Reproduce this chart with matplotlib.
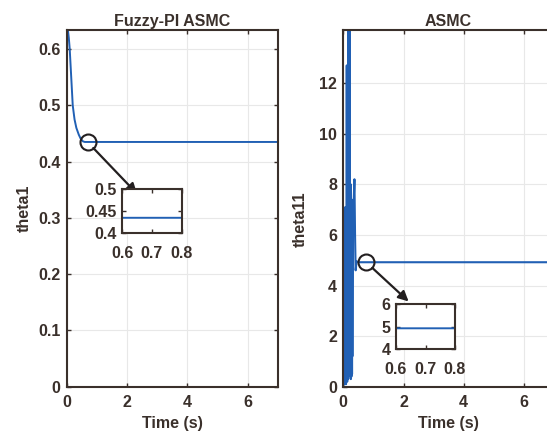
import matplotlib
matplotlib.use("Agg")
import matplotlib.pyplot as plt

# ---------------- data ----------------
fuzzy_t = [0.0, 0.001, 0.04, 0.07, 0.10, 0.15, 0.20, 0.26, 0.32, 0.40, 0.47, 0.54, 0.60, 1.0, 7.0]
fuzzy_theta = [0.0, 0.634, 0.634, 0.62, 0.60, 0.55, 0.50, 0.475, 0.46, 0.448, 0.440, 0.436, 0.435, 0.435, 0.435]

asmc_t = [0.000, 0.005, 0.010, 0.015, 0.020, 0.025, 0.030, 0.035, 0.040, 0.045,
          0.050, 0.055, 0.060, 0.065, 0.070, 0.075, 0.080, 0.085, 0.090, 0.095,
          0.100, 0.105, 0.110, 0.115, 0.120, 0.125, 0.130, 0.135, 0.140, 0.145,
          0.150, 0.155, 0.160, 0.165, 0.170, 0.175, 0.180, 0.185, 0.190, 0.195,
          0.200, 0.205, 0.210, 0.215, 0.220, 0.225, 0.230, 0.235, 0.240, 0.245,
          0.250, 0.255, 0.260, 0.265, 0.270, 0.275, 0.280, 0.285, 0.290, 0.295,
          0.300, 0.31, 0.33, 0.35, 0.37, 0.39, 0.41, 0.44, 0.50, 7.0]
asmc_theta = [0.0, 6.9, 0.1, 6.5, 0.2, 7.0, 0.1, 6.8, 0.3, 7.0,
              0.2, 6.6, 0.1, 7.1, 0.3, 6.9, 0.2, 7.0, 0.1, 6.7,
              0.2, 7.0, 0.4, 12.7, 0.3, 7.0, 0.2, 6.8, 0.4, 7.2,
              0.5, 7.0, 0.3, 13.5, 0.4, 14.1, 0.6, 14.1, 0.5, 14.1,
              1.0, 14.1, 0.8, 13.0, 0.5, 8.0, 0.6, 7.6, 0.5, 8.0,
              0.3, 7.2, 0.6, 7.0, 0.4, 7.4, 0.8, 7.0, 0.5, 7.2,
              1.2, 7.2, 6.8, 7.5, 8.2, 6.0, 4.6, 4.95, 4.92, 4.92]

left_yticks = [0, 0.1, 0.2, 0.3, 0.4, 0.5, 0.6]
right_yticks = [0, 2, 4, 6, 8, 10, 12]
xticks = [0, 2, 4, 6]

fuzzy_inset_yticks = [0.4, 0.45, 0.5]
asmc_inset_yticks = [4, 5, 6]
inset_xticks = [0.6, 0.7, 0.8]

# ---------------- style ----------------
TXT = "#3a302b"
BLUE = "#2160b4"
GRID = "#e8e8e8"
plt.rcParams['font.family'] = ['Liberation Sans', 'DejaVu Sans']
plt.rcParams['font.weight'] = 'bold'
FS = 11.5

W, H = 547, 436
fig = plt.figure(figsize=(W / 100, H / 100), dpi=100)


def px_rect(x0, y0, x1, y1):
    return [x0 / W, (H - y1) / H, (x1 - x0) / W, (y1 - y0) / H]


def style(ax, xpad=6, ypad=4.5, grid=True):
    for s in ax.spines.values():
        s.set_color(TXT)
        s.set_linewidth(1.5)
    ax.tick_params(direction='in', length=3, width=1.0, colors=TXT,
                   labelsize=FS, top=True, right=True)
    ax.tick_params(axis='x', pad=xpad)
    ax.tick_params(axis='y', pad=ypad)
    for lab in ax.get_xticklabels() + ax.get_yticklabels():
        lab.set_fontweight('bold')
    if grid:
        ax.grid(True, color=GRID, lw=0.8)
    ax.set_axisbelow(True)


ax1 = fig.add_axes(px_rect(66.7, 30, 278, 386.7))
ax1.plot(fuzzy_t, fuzzy_theta, color=BLUE, lw=1.4)
ax1.set_xlim(0, 7)
ax1.set_ylim(0, 0.634)
ax1.set_xticks(xticks)
ax1.set_yticks(left_yticks)
ax1.set_yticklabels(['0', '0.1', '0.2', '0.3', '0.4', '0.5', '0.6'])
style(ax1)
ax1.set_title('Fuzzy-PI ASMC', fontsize=FS, fontweight='bold', color=TXT, pad=3)
ax1.set_xlabel('Time (s)', fontsize=FS, fontweight='bold', color=TXT, labelpad=4)
ax1.set_ylabel('theta1', fontsize=FS, fontweight='bold', color=TXT)
ax1.yaxis.set_label_coords(-0.165, 0.5)

ax2 = fig.add_axes(px_rect(343.3, 30, 554, 386.7))
ax2.plot(asmc_t, asmc_theta, color=BLUE, lw=1.5)
ax2.set_xlim(0, 7)
ax2.set_ylim(0, 14.1)
ax2.set_xticks(xticks)
ax2.set_yticks(right_yticks)
style(ax2)
ax2.set_title('ASMC', fontsize=FS, fontweight='bold', color=TXT, pad=3)
ax2.set_xlabel('Time (s)', fontsize=FS, fontweight='bold', color=TXT, labelpad=4)
ax2.set_ylabel('theta11', fontsize=FS, fontweight='bold', color=TXT)
ax2.yaxis.set_label_coords(-0.17, 0.47)

# circles + arrows
for ax, c, tip in [(ax1, (0.69, 0.435), (2.33, 0.343)),
                   (ax2, (0.76, 4.92), (2.17, 3.37))]:
    ax.plot([c[0]], [c[1]], marker='o', ms=11.5, mfc='none', mec='#231f20',
            mew=1.5, zorder=5)
    ax.annotate('', xy=tip, xytext=c,
                arrowprops=dict(arrowstyle='-|>', color='#231f20', lw=1.6,
                                mutation_scale=15, shrinkA=6, shrinkB=0),
                zorder=5)

# insets
in1 = fig.add_axes(px_rect(122.3, 189, 181.7, 233.3))
in1.plot(fuzzy_t, fuzzy_theta, color=BLUE, lw=1.4)
in1.set_xlim(0.6, 0.8)
in1.set_ylim(0.4, 0.5)
in1.set_xticks(inset_xticks)
in1.set_yticks(fuzzy_inset_yticks)
in1.set_yticklabels(['0.4', '0.45', '0.5'])
style(in1, xpad=9, ypad=4, grid=False)

in2 = fig.add_axes(px_rect(396, 304, 455, 349))
in2.plot(asmc_t, asmc_theta, color=BLUE, lw=1.4)
in2.set_xlim(0.6, 0.8)
in2.set_ylim(4, 6)
in2.set_xticks(inset_xticks)
in2.set_yticks(asmc_inset_yticks)
style(in2, xpad=9, ypad=4, grid=False)

fig.savefig('out.png', dpi=100)
